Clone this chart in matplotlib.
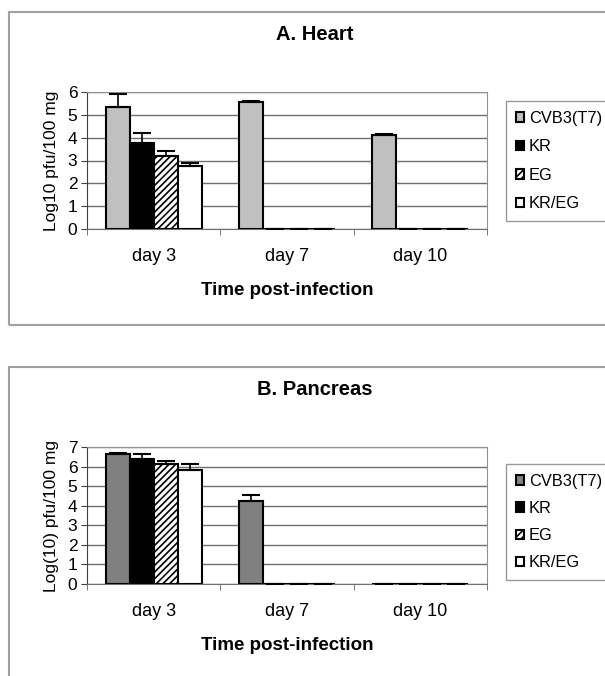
import numpy as np
import matplotlib
matplotlib.use("Agg")
import matplotlib.pyplot as plt
from matplotlib.patches import Rectangle

plt.rcParams['font.family'] = ['Liberation Sans', 'DejaVu Sans']
plt.rcParams['hatch.linewidth'] = 1.2

days = ['day 3', 'day 7', 'day 10']
strains = ['CVB3(T7)', 'KR', 'EG', 'KR/EG']

# heart, log10 pfu/100 mg (rows = strains, cols = days)
heart = [[5.35, 5.55, 4.1],
         [3.75, 0, 0],
         [3.2, 0, 0],
         [2.75, 0, 0]]
heart_err = [[0.55, 0.06, 0.06],
             [0.45, 0, 0],
             [0.2, 0, 0],
             [0.15, 0, 0]]

# pancreas
pancreas = [[6.65, 4.25, 0],
            [6.4, 0, 0],
            [6.15, 0, 0],
            [5.85, 0, 0]]
pancreas_err = [[0.06, 0.3, 0],
                [0.25, 0, 0],
                [0.15, 0, 0],
                [0.3, 0, 0]]

W, H = 605, 676
fig = plt.figure(figsize=(W / 100, H / 100), dpi=100)

# panel frames
fig.patches.append(Rectangle((9 / W, 1 - 325 / H), 700 / W, 313 / H, transform=fig.transFigure,
                             fill=False, edgecolor='#a0a0a0', linewidth=1.5))
fig.patches.append(Rectangle((9 / W, -0.1), 700 / W, 0.1 + 1 - 367 / H, transform=fig.transFigure,
                             fill=False, edgecolor='#a0a0a0', linewidth=1.5))


def panel(rect, vals, errs, first_color, ymax, ylabel, title, title_y, leg_top, spacing):
    ax = fig.add_axes(rect)
    x = np.arange(len(days))
    w = 0.18
    colors = [first_color, 'black', 'white', 'white']
    hatches = [None, None, '/////', None]
    for i, s in enumerate(strains):
        v = np.array(vals[i])
        e = np.array(errs[i])
        ax.bar(x + (i - 1.5) * w, v, w, color=colors[i], edgecolor='black', linewidth=1.5,
               hatch=hatches[i], label=s, zorder=3)
        ax.errorbar(x + (i - 1.5) * w, v, yerr=[np.zeros_like(e), e], fmt='none', ecolor='black',
                    elinewidth=1.2, capsize=6.5, capthick=1.5, zorder=4)
    ax.set_xlim(-0.5, 2.5)
    ax.set_ylim(0, ymax)
    ax.set_yticks(range(ymax + 1))
    ax.set_xticks(x)
    ax.set_xticklabels(days, fontsize=13)
    ax.set_xticks([-0.5, 0.5, 1.5, 2.5], minor=True)
    ax.tick_params(axis='x', which='major', length=0, pad=14)
    ax.tick_params(axis='x', which='minor', length=4, color='#606060')
    ax.tick_params(axis='y', labelsize=12.5, length=4, color='#404040', pad=3)
    ax.yaxis.grid(True, color='#707070', linewidth=1.0, zorder=0)
    ax.set_axisbelow(True)
    for sp in ['top', 'right']:
        ax.spines[sp].set_color('#909090')
    ax.spines['left'].set_color('#404040')
    ax.spines['bottom'].set_color('#707070')
    ax.set_ylabel(ylabel, fontsize=12.5, labelpad=6)
    ax.set_xlabel('Time post-infection', fontsize=13.5, fontweight='bold', labelpad=12)
    fig.text(315 / W, 1 - title_y / H, title, ha='center', va='center',
             fontsize=14.5, fontweight='bold')
    leg = ax.legend(loc='upper left', bbox_to_anchor=(506 / W, 1 - leg_top / H),
                    bbox_transform=fig.transFigure, fontsize=11.8, frameon=True, fancybox=False,
                    edgecolor='#808080', handlelength=0.5, handleheight=0.5, handletextpad=0.3,
                    labelspacing=spacing, borderpad=0.6, borderaxespad=0)
    leg._legend_box.align = 'left'
    leg.get_frame().set_linewidth(1.0)
    return ax


panel([87 / W, 1 - 229 / H, 400 / W, 137 / H], heart, heart_err, '#c0c0c0', 6,
      'Log10 pfu/100 mg', 'A. Heart', 34, 101, 0.82)
panel([87 / W, 1 - 584 / H, 400 / W, 137 / H], pancreas, pancreas_err, '#808080', 7,
      'Log(10) pfu/100 mg', 'B. Pancreas', 390, 464, 0.74)

fig.savefig('out.png', dpi=100)
